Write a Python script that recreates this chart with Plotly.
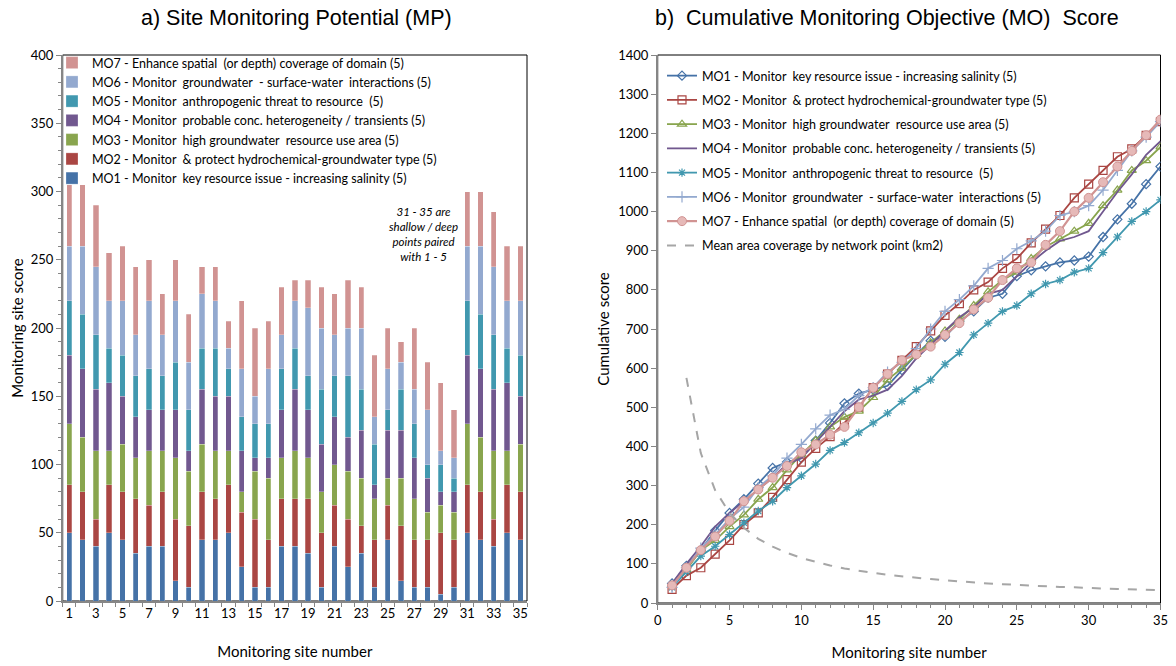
import plotly.graph_objects as go
import numpy as np

sites = list(range(1, 36))

mo1 = [50, 45, 40, 50, 45, 35, 40, 40, 15, 10, 45, 45, 50, 25, 10, 10, 40, 40, 35, 10,
       40, 25, 35, 10, 45, 15, 10, 10, 5, 10, 50, 45, 40, 50, 45]
mo2 = [35, 35, 20, 35, 35, 40, 30, 40, 45, 45, 35, 30, 35, 40, 50, 35, 35, 35, 40, 40,
       30, 35, 20, 35, 25, 40, 35, 35, 45, 35, 35, 35, 20, 35, 35]
mo3 = [45, 40, 50, 25, 35, 30, 40, 30, 45, 40, 35, 35, 25, 15, 35, 45, 30, 35, 30, 30,
       30, 35, 35, 30, 20, 35, 30, 20, 20, 20, 45, 40, 50, 25, 35]
mo4 = [50, 50, 45, 50, 35, 30, 30, 30, 35, 15, 40, 40, 40, 30, 10, 15, 35, 45, 35, 35,
       35, 25, 35, 10, 35, 35, 30, 25, 10, 15, 50, 50, 45, 50, 35]
mo5 = [40, 40, 40, 25, 30, 30, 30, 25, 35, 30, 30, 35, 20, 25, 25, 25, 30, 30, 25, 40,
       30, 45, 30, 30, 15, 30, 25, 10, 20, 10, 40, 40, 40, 25, 30]
mo6 = [40, 50, 50, 35, 40, 30, 50, 30, 45, 35, 40, 35, 15, 35, 20, 40, 25, 35, 50, 45,
       30, 35, 45, 20, 30, 20, 25, 40, 10, 15, 40, 50, 50, 35, 40]
mo7 = [45, 45, 45, 35, 40, 50, 30, 30, 30, 35, 20, 25, 20, 50, 50, 35, 35, 15, 20, 30,
       30, 35, 30, 45, 30, 15, 45, 35, 50, 35, 40, 40, 40, 40, 40]

# mean area coverage by network point (km2), sites 2..35
area_sites = list(range(2, 36))
mean_area = [575, 383, 288, 230, 192, 164, 144, 128, 115, 105, 96, 88, 82, 77, 72, 68,
             64, 61, 58, 55, 52, 50, 48, 46, 44, 43, 41, 40, 38, 37, 36, 35, 34, 33]

mo_names = [
    "MO1 - Monitor  key resource issue - increasing salinity (5)",
    "MO2 - Monitor  & protect hydrochemical-groundwater type (5)",
    "MO3 - Monitor  high groundwater  resource use area (5)",
    "MO4 - Monitor  probable conc. heterogeneity / transients (5)",
    "MO5 - Monitor  anthropogenic threat to resource  (5)",
    "MO6 - Monitor  groundwater  - surface-water  interactions (5)",
    "MO7 - Enhance spatial  (or depth) coverage of domain (5)",
]
mean_name = "Mean area coverage by network point (km2)"
annot_text = "<i>31 - 35 are<br>shallow / deep<br>points paired<br>with 1 - 5</i>"

series = [mo1, mo2, mo3, mo4, mo5, mo6, mo7]
colors = ["#4572A7", "#AA4643", "#89A54E", "#71588F", "#4198AF", "#93A9CF", "#D19392"]
symbols = ["diamond-open", "square-open", "triangle-up-open", None,
           "asterisk-open", "cross-thin-open", "circle"]
msizes = [7, 8, 8, 0, 7, 8, 9]

W, H = 1176, 666
def fx(x): return x / W
def fy(y): return 1 - y / H

FONT = "Lato"
fig = go.Figure()

for i, vals in enumerate(series):
    fig.add_trace(go.Bar(
        x=sites, y=vals, name=mo_names[i], width=0.4,
        marker=dict(color=colors[i], line=dict(color="rgba(255,255,255,0.5)", width=0.5)),
        xaxis="x", yaxis="y", legend="legend",
    ))

for i, vals in enumerate(series):
    cum = np.cumsum(vals)
    if symbols[i] is None:
        mode = "lines"
        marker = None
    else:
        mode = "lines+markers"
        if symbols[i] == "circle":
            marker = dict(symbol="circle", size=msizes[i], color="#E6B9B8",
                          line=dict(color=colors[i], width=1))
        else:
            marker = dict(symbol=symbols[i], size=msizes[i], color=colors[i],
                          line=dict(color=colors[i], width=1.2))
    fig.add_trace(go.Scatter(
        x=sites, y=cum, name=mo_names[i], mode=mode, marker=marker,
        line=dict(color=colors[i], width=2.2 if i == 6 else 1.8),
        xaxis="x2", yaxis="y2", legend="legend2", legendgroup=f"g{i}",
    ))

fig.add_trace(go.Scatter(
    x=area_sites, y=mean_area, name=mean_name, mode="lines",
    line=dict(color="#A6A6A6", width=2, dash="dash"),
    xaxis="x2", yaxis="y2", legend="legend2", legendgroup="g7",
))

axis_common = dict(showgrid=False, zeroline=False, showline=True, linecolor="#868686",
                   linewidth=1.5, ticks="outside", tickcolor="#868686", automargin=False,
                   tickfont=dict(family=FONT, size=13, color="#000"))

fig.update_layout(
    width=W, height=H, margin=dict(l=0, r=0, t=0, b=0, autoexpand=False),
    paper_bgcolor="white", plot_bgcolor="white",
    barmode="stack", bargap=0.5,
    font=dict(family=FONT, size=12, color="#000"),
    xaxis=dict(domain=[fx(62.7), fx(527)], range=[0.5, 35.5],
               tickvals=list(range(1, 36, 2)), ticklen=0,
               minor=dict(tickvals=[k + 0.5 for k in range(0, 36)], ticks="outside",
                          ticklen=4, tickcolor="#868686"),
               title=dict(text="Monitoring site number", standoff=26,
                          font=dict(family=FONT, size=15)),
               anchor="y", **axis_common),
    yaxis=dict(domain=[fy(601), fy(55)], range=[0, 400], dtick=50, ticklen=5,
               minor=dict(dtick=10, ticks="outside", ticklen=3, tickcolor="#868686"),
               title=dict(text="Monitoring site score", standoff=3,
                          font=dict(family=FONT, size=15)),
               anchor="x", **axis_common),
    xaxis2=dict(domain=[fx(657.7), fx(1160.5)], range=[0, 35], dtick=5, ticklen=5,
                minor=dict(dtick=1, ticks="outside", ticklen=3, tickcolor="#868686"),
                title=dict(text="Monitoring site number", standoff=20,
                           font=dict(family=FONT, size=15)),
                anchor="y2", **axis_common),
    yaxis2=dict(domain=[fy(603), fy(55)], range=[0, 1400], dtick=100, ticklen=5,
                title=dict(text="Cumulative score", standoff=5,
                           font=dict(family=FONT, size=15)),
                anchor="x2", **axis_common),
    legend=dict(x=fx(52), y=fy(48), xanchor="left", yanchor="top",
                traceorder="reversed", bgcolor="rgba(0,0,0,0)",
                font=dict(family=FONT, size=12.5)),
    legend2=dict(x=fx(662), y=fy(61), xanchor="left", yanchor="top",
                 traceorder="grouped", tracegroupgap=5.0, bgcolor="rgba(0,0,0,0)",
                 font=dict(family=FONT, size=12.5)),
    showlegend=True,
)

# plot frames
for xr, yr in (("x domain", "y domain"), ("x2 domain", "y2 domain")):
    fig.add_shape(type="rect", xref=xr, yref=yr, x0=0, x1=1, y0=0, y1=1,
                  line=dict(color="#000", width=1), layer="below")

fig.add_annotation(text="a) Site Monitoring Potential (MP)", xref="paper", yref="paper",
                   x=fx(297), y=fy(18), xanchor="center", yanchor="middle", showarrow=False,
                   font=dict(family="Liberation Sans", size=21.5, color="#000"))
fig.add_annotation(text="b)  Cumulative Monitoring Objective (MO)  Score", xref="paper",
                   yref="paper", x=fx(887), y=fy(18), xanchor="center", yanchor="middle",
                   showarrow=False,
                   font=dict(family="Liberation Sans", size=21.5, color="#000"))
fig.add_annotation(text=annot_text, xref="paper", yref="paper", x=fx(423), y=fy(234),
                   xanchor="center", yanchor="middle",
                   showarrow=False, align="center",
                   font=dict(family=FONT, size=11.5, color="#000"))

fig.write_html("out.html")
